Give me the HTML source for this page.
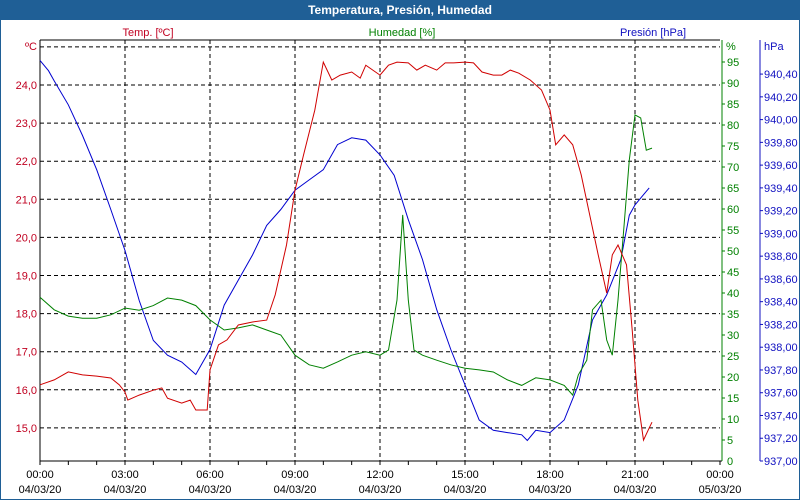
<!DOCTYPE html>
<html><head><meta charset="utf-8"><style>
body{margin:0;background:#fff;}
#wrap{width:800px;height:500px;position:relative;overflow:hidden;font-family:"Liberation Sans",sans-serif;}
</style></head><body>
<div id="wrap">
<svg id="svg" width="800" height="500" xmlns="http://www.w3.org/2000/svg" font-family="Liberation Sans, sans-serif" font-size="11">
<rect x="0" y="0" width="800" height="500" fill="#fff" stroke="#1f5f96" stroke-width="2"/>
<rect x="0" y="0" width="800" height="20" fill="#1f5f96"/>
<text x="400" y="14" text-anchor="middle" fill="#fff" font-weight="bold" font-size="12">Temperatura, Presión, Humedad</text>
<text x="148" y="36" text-anchor="middle" fill="#c00020">Temp. [ºC]</text>
<text x="402" y="36" text-anchor="middle" fill="#008000">Humedad [%]</text>
<text x="653" y="36" text-anchor="middle" fill="#1010c0">Presión [hPa]</text>
<g id="grid"></g><g id="axes"></g><g id="series"></g>
</svg>
</div>
<script>
const tempHours=[0,0.5,1,1.5,2,2.5,2.8,3,3.1,3.5,4,4.3,4.5,5,5.3,5.5,5.9,6,6.3,6.6,7,7.5,8,8.3,8.7,9,9.3,9.7,10,10.3,10.6,11,11.3,11.5,12,12.3,12.6,13,13.3,13.6,14,14.3,14.6,15,15.3,15.6,16,16.3,16.6,16.9,17.3,17.7,18,18.2,18.5,18.8,19.1,19.4,19.7,20,20.2,20.4,20.7,20.9,21.1,21.3,21.5,21.6];
const tempValues=[16.13,16.26,16.47,16.39,16.36,16.31,16.13,15.94,15.73,15.86,15.99,16.05,15.78,15.65,15.73,15.47,15.47,16.52,17.18,17.31,17.70,17.78,17.83,18.49,19.80,21.24,22.16,23.34,24.60,24.13,24.26,24.34,24.18,24.52,24.26,24.52,24.60,24.58,24.39,24.52,24.39,24.58,24.58,24.60,24.58,24.34,24.26,24.26,24.39,24.31,24.13,23.87,23.34,22.43,22.69,22.43,21.64,20.59,19.54,18.54,19.54,19.80,19.28,17.57,15.73,14.68,15.0,15.15];
const humHours=[0,0.5,1,1.5,2,2.5,3,3.5,4,4.5,5,5.5,6,6.5,7,7.5,8,8.5,9,9.5,10,10.5,11,11.5,12,12.3,12.6,12.8,13,13.2,13.5,14,14.5,15,15.5,16,16.5,17,17.5,18,18.5,18.8,19,19.3,19.5,19.8,20,20.2,20.4,20.6,20.8,21,21.2,21.4,21.6];
const humValues=[39,36,34.5,34,34,34.8,36.4,35.9,37,38.8,38.3,37,33.6,31.2,31.7,32.4,31.2,30,25.2,22.9,22.1,23.6,25.2,26,25.2,26.4,38.3,58.6,38.3,26.4,25.2,24,22.9,22.1,21.7,21.2,19.3,18,19.8,19.3,18,15.7,20.5,24,36,38.3,28.8,25.2,38.3,55,71.7,82.4,81.7,74,74.5];
const presHours=[0,0.3,0.5,1,1.5,2,2.5,3,3.5,4,4.5,5,5.5,6,6.5,7,7.5,8,8.5,9,9.5,10,10.5,11,11.5,12,12.5,13,13.5,14,14.5,15,15.5,16,16.5,17,17.2,17.5,18,18.5,19,19.5,20,20.5,20.8,21,21.3,21.5];
const presValues=[940.52,940.43,940.34,940.13,939.86,939.56,939.21,938.85,938.41,938.06,937.93,937.87,937.76,937.98,938.37,938.59,938.81,939.07,939.21,939.38,939.47,939.56,939.78,939.84,939.82,939.69,939.51,939.12,938.77,938.33,937.98,937.67,937.36,937.27,937.25,937.23,937.18,937.27,937.25,937.36,937.67,938.24,938.46,938.77,939.16,939.25,939.34,939.40];
const xTickLabels=["00:00","03:00","06:00","09:00","12:00","15:00","18:00","21:00","00:00"];
const xDateLabels=["04/03/20","04/03/20","04/03/20","04/03/20","04/03/20","04/03/20","04/03/20","04/03/20","05/03/20"];
const tempTicks=[15,16,17,18,19,20,21,22,23,24];
const humTicks=[5,10,15,20,25,30,35,40,45,50,55,60,65,70,75,80,85,90,95];
const presTicks=[937.0,937.2,937.4,937.6,937.8,938.0,938.2,938.4,938.6,938.8,939.0,939.2,939.4,939.6,939.8,940.0,940.2,940.4];

const L=40,R=720,T=40,B=461;
const X=h=>L+h*(R-L)/24;
const YT=t=>85+(24-t)*38.1;
const YH=v=>B-v*4.2;
const YP=p=>B-(p-937)/0.2*22.76;
const NS="http://www.w3.org/2000/svg";
function mk(tag,attrs,parent,txt){const e=document.createElementNS(NS,tag);for(const k in attrs)e.setAttribute(k,attrs[k]);if(txt!==undefined)e.textContent=txt;parent.appendChild(e);return e;}
const grid=document.getElementById('grid'),axes=document.getElementById('axes'),series=document.getElementById('series');
// horizontal grid
[25].concat(tempTicks).forEach(t=>{const l=mk('line',{x1:L,x2:R,y1:YT(t),y2:YT(t),stroke:'#000','stroke-dasharray':'4,3'},grid);

});
for(let i=1;i<8;i++){const l=mk('line',{x1:X(i*3),x2:X(i*3),y1:T,y2:B,stroke:'#000','stroke-dasharray':'4,3'},grid);

}
// axes
const ax=mk('path',{d:`M${L},${T} V${B} H${R+2}`,stroke:'#000',fill:'none'},axes);


const ta=mk('line',{x1:L,x2:R,y1:T,y2:T,stroke:'#000'},axes);


for(let h=0;h<=24;h++){const l=mk('line',{x1:X(h),x2:X(h),y1:B,y2:B+4,stroke:'#000'},axes);

}
xTickLabels.forEach((s,i)=>{const t=mk('text',{x:X(i*3),y:478,'text-anchor':'middle',fill:'#000'},axes,s);


const d=mk('text',{x:X(i*3),y:493,'text-anchor':'middle',fill:'#000'},axes,xDateLabels[i]);

});
const tu=mk('text',{x:37,y:50,'text-anchor':'end',fill:'#c00020'},axes,'ºC');


tempTicks.forEach(t=>{const e=mk('text',{x:37,y:YT(t)+4,'text-anchor':'end',fill:'#c00020'},axes,t.toFixed(1).replace('.',','));

});
// humidity axis
const hl=mk('line',{x1:R+2,x2:R+2,y1:T,y2:B,stroke:'#008000'},axes);


const hu=mk('text',{x:726,y:50,fill:'#008000'},axes,'%');


humTicks.forEach(v=>{const l=mk('line',{x1:R+2,x2:R+5,y1:YH(v),y2:YH(v),stroke:'#008000'},axes);


const e=mk('text',{x:R+7,y:YH(v)+4,fill:'#008000'},axes,String(v));

});
const z=mk('text',{x:R+7,y:B+4,fill:'#008000'},axes,'0');


// pressure axis
const pl=mk('line',{x1:760,x2:760,y1:T,y2:B,stroke:'#1010c0'},axes);


const pu=mk('text',{x:764,y:50,fill:'#1010c0'},axes,'hPa');


presTicks.forEach(p=>{const l=mk('line',{x1:760,x2:763,y1:YP(p),y2:YP(p),stroke:'#1010c0'},axes);


const e=mk('text',{x:764,y:YP(p)+4,fill:'#1010c0'},axes,p.toFixed(2).replace('.',','));

});
// series
function line(hs,vs,fy,col,name){const d=hs.map((h,i)=>(i?'L':'M')+X(h).toFixed(1)+','+fy(vs[i]).toFixed(1)).join(' ');
const p=mk('path',{d:d,stroke:col,fill:'none','stroke-width':1},series);

}
line(presHours,presValues,YP,'#0000d0','pressure-line');
line(humHours,humValues,YH,'#008000','humidity-line');
line(tempHours,tempValues,YT,'#d00000','temperature-line');
</script>
</body></html>
